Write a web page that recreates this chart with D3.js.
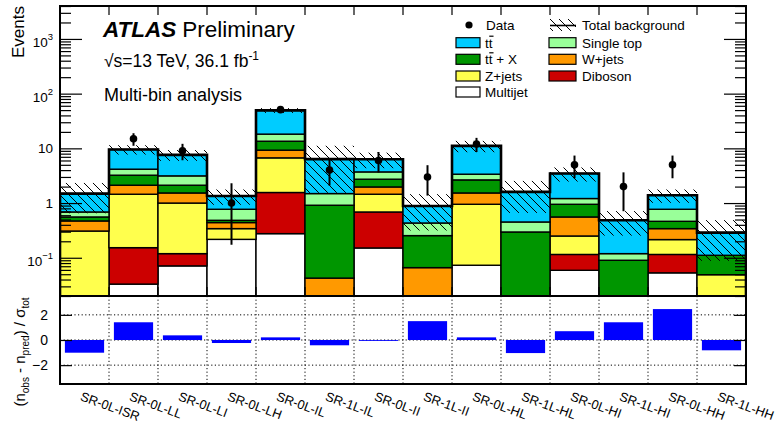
<!DOCTYPE html>
<html><head><meta charset="utf-8">
<script src="https://cdn.jsdelivr.net/npm/d3@7"></script>
<style>
body{margin:0;background:#fff}
svg{display:block;font-family:"Liberation Sans",Arial,Helvetica,sans-serif}
</style>
</head><body>
<svg id="c" width="778" height="427"></svg>
<script>
// ---------- data ----------
const categories = ["SR-0L-ISR","SR-0L-LL","SR-0L-LI","SR-0L-LH","SR-0L-IL","SR-1L-IL","SR-0L-II","SR-1L-II","SR-0L-HL","SR-1L-HL","SR-0L-HI","SR-1L-HI","SR-0L-HH","SR-1L-HH"];
// background components (stack order bottom -> top)
const multijet  = [0,     0.033, 0.071, 0.217, 0.276, 0,     0.151, 0,     0.073, 0,     0.059, 0,     0.053, 0];
const diboson   = [0,     0.120, 0.048, 0,     1.284, 0,     0.536, 0,     0,     0,     0.056, 0,     0.062, 0];
const zjets     = [0.308, 1.297, 0.881, 0.124, 5.14,  0,     0.763, 0,     0.877, 0,     0.135, 0,     0.100, 0.049];
const wjets     = [0.163, 0.67,  0.53,  0.099, 2.57,  0.0425,0.52,  0.066, 0.58,  0,     0.307, 0,     0.126, 0];
const ttx       = [0.086, 1.11,  0.59,  0.044, 4.23,  0.87,  0.76,  0.188, 1.12,  0.296, 0.393, 0.090, 0.123, 0.062];
const singletop = [0.130, 0.93,  1.02,  0.286, 4.7,   0.578, 0.98,  0.178, 0.72,  0.155, 0.26,  0.029, 0.306, 0];
const ttbar     = [0.803, 5.39,  4.46,  0.58,  31.2,  4.85,  2.63,  0.453, 7.73,  1.149, 2.26,  0.365, 0.62,  0.177];
const totalErr  = [0.84,  1.85,  1.7,   0.42,  5.0,   4.8,   2.0,   0.57,  2.6,   0.94,  1.0,   0.23,  0.38,  0.20];
// observed data and its error bar limits
const dataObs   = [0, 15, 9, 1, 51, 4, 6, 3, 12, 0, 5, 2, 5, 0];
const dataLow   = [0, 11.14, 6.06, 0.173, 44.4, 2.09, 3.62, 1.37, 8.57, 0, 2.84, 0.71, 2.84, 0];
const dataHigh  = [0, 18.9, 12.1, 2.30, 58.2, 6.16, 8.58, 4.92, 15.55, 0, 7.38, 3.64, 7.38, 0];
// significance panel
const significance = [-1.01, 1.41, 0.37, -0.24, 0.21, -0.42, -0.07, 1.50, 0.21, -1.04, 0.70, 1.41, 2.46, -0.82];
const yMajorTicks = [0.1, 1, 10, 100, 1000];
const yMajorLabels = [["10","−1"],["1",""],["10",""],["10","2"],["10","3"]];
const ratioTicks = [-2, 0, 2];
const ratioTickLabels = ["−2", "0", "2"];

const keys = ["multijet","diboson","zjets","wjets","ttx","singletop","ttbar"];
const colors = {multijet:"#ffffff", diboson:"#cc0000", zjets:"#ffff4d", wjets:"#ff9900", ttx:"#009600", singletop:"#99ff99", ttbar:"#00ccff"};
const series = {multijet, diboson, zjets, wjets, ttx, singletop, ttbar};

const table = categories.map((c,i)=>{const o={cat:c}; keys.forEach(k=>o[k]=series[k][i]); return o;});

// ---------- layout ----------
const L=60, R=746, T=6, B=296, RB=384;
const svg = d3.select("#c");
const defs = svg.append("defs");
const pat = defs.append("pattern").attr("id","hatch").attr("patternUnits","userSpaceOnUse")
  .attr("width",9).attr("height",9);
pat.append("path").attr("d","M0,0 L9,9 M-1,8 L1,10 M8,-1 L10,1").attr("stroke","#000").attr("stroke-width",1);
defs.append("clipPath").attr("id","clipMain").append("rect").attr("x",L).attr("y",T).attr("width",R-L).attr("height",B-T);

const x = d3.scaleBand().domain(categories).range([L,R]).paddingInner(0).paddingOuter(0);
const y = d3.scaleLog().domain([0.02,4000]).range([B,T]).clamp(true);
const yr = d3.scaleLinear().domain([-3.5,3.5]).range([RB,B]);
const bw = x.bandwidth();
const Y = v => y(Math.max(v,1e-5));

// ---------- stack ----------
const stack = d3.stack().keys(keys)(table);
const gm = svg.append("g").attr("clip-path","url(#clipMain)");
stack.forEach(layer=>{
  gm.selectAll(null).data(layer).enter().append("rect")
    .attr("x",d=>x(d.data.cat)).attr("width",bw)
    .attr("y",d=>Y(d[1])).attr("height",d=>Math.max(0,Y(d[0])-Y(d[1])))
    .attr("fill",colors[layer.key])
    .attr("stroke",d=> (d[1]-d[0])>0 && Y(d[0])-Y(d[1])>0.01 ? "#000" : "none").attr("stroke-width",1.4);
});
const totals = table.map(d=>keys.reduce((s,k)=>s+d[k],0));

// hatched uncertainty
gm.selectAll(null).data(categories).enter().append("rect")
  .attr("x",d=>x(d)).attr("width",bw)
  .attr("y",(d,i)=>Y(totals[i]+totalErr[i]))
  .attr("height",(d,i)=>Y(totals[i]-totalErr[i])-Y(totals[i]+totalErr[i]))
  .attr("fill","url(#hatch)");

// total outline
let p = `M${L},${B}`;
categories.forEach((c,i)=>{p+=` L${x(c)},${Y(totals[i])} L${x(c)+bw},${Y(totals[i])}`;});
p += ` L${R},${B}`;
gm.append("path").attr("d",p).attr("fill","none").attr("stroke","#000").attr("stroke-width",2.6).attr("stroke-linejoin","miter");

// data
const gd = svg.append("g");
categories.forEach((c,i)=>{
  if(dataObs[i]<=0) return;
  const cx = x(c)+bw/2;
  gd.append("line").attr("x1",cx).attr("x2",cx).attr("y1",Y(dataLow[i])).attr("y2",Y(dataHigh[i]))
    .attr("stroke","#000").attr("stroke-width",2);
  gd.append("circle").attr("cx",cx).attr("cy",Y(dataObs[i])).attr("r",3.8).attr("fill","#000");
});

// ---------- main axes ----------
svg.append("rect").attr("x",L).attr("y",T).attr("width",R-L).attr("height",B-T).attr("fill","none").attr("stroke","#000").attr("stroke-width",2);
const minor=[];
for(let k=-2;k<=3;k++) for(let m=2;m<=9;m++){const v=m*Math.pow(10,k); if(v>=0.02&&v<=4000) minor.push(v);}
const ax = svg.append("g");
ax.append("g").attr("transform",`translate(${L},0)`).call(d3.axisLeft(y).tickValues(yMajorTicks).tickSize(-22).tickFormat("")).call(g=>g.select(".domain").remove());
ax.append("g").attr("transform",`translate(${L},0)`).call(d3.axisLeft(y).tickValues(minor).tickSize(-11).tickFormat("")).call(g=>g.select(".domain").remove());
ax.append("g").attr("transform",`translate(${R},0)`).call(d3.axisRight(y).tickValues(yMajorTicks).tickSize(-22).tickFormat("")).call(g=>g.select(".domain").remove());
ax.append("g").attr("transform",`translate(${R},0)`).call(d3.axisRight(y).tickValues(minor).tickSize(-11).tickFormat("")).call(g=>g.select(".domain").remove());
ax.selectAll(".tick line").attr("stroke","#000").attr("stroke-width",1.2);
// x ticks top/bottom of main
const bounds = categories.slice(1).map(c=>x(c));
bounds.forEach(bx=>{
  svg.append("line").attr("x1",bx).attr("x2",bx).attr("y1",T).attr("y2",T+9).attr("stroke","#000").attr("stroke-width",1.2);
  svg.append("line").attr("x1",bx).attr("x2",bx).attr("y1",B).attr("y2",B-9).attr("stroke","#000").attr("stroke-width",1.2);
});
// y labels
yMajorTicks.forEach((v,i)=>{
  const lab = yMajorLabels[i];
  const t = svg.append("text").attr("x",53).attr("y",y(v)+(lab[1]?8:5)).attr("text-anchor","end").attr("font-size",13.5);
  t.append("tspan").text(lab[0]);
  if(lab[1]) t.append("tspan").attr("dy",-7).attr("font-size",9.5).text(lab[1]);
});
svg.append("text").attr("transform","translate(24,6) rotate(-90)").attr("text-anchor","end").attr("font-size",17).text("Events");

// ---------- titles ----------
const t1 = svg.append("text").attr("x",103).attr("y",37).attr("font-size",22.5);
t1.append("tspan").attr("font-weight","bold").attr("font-style","italic").text("ATLAS");
t1.append("tspan").attr("dx",6).text("Preliminary");
const t2 = svg.append("text").attr("x",104).attr("y",67).attr("font-size",17.5);
t2.append("tspan").text("√s=13 TeV, 36.1 fb");
t2.append("tspan").attr("dy",-7).attr("font-size",12).text("-1");
svg.append("text").attr("x",104).attr("y",101).attr("font-size",18).text("Multi-bin analysis");

// ---------- legend ----------
const lg = svg.append("g").attr("font-size",13.5);
const ttText = (g, xx, yy, extra) => {
  const t = g.append("text").attr("x",xx).attr("y",yy).text("tt"+extra);
  const node = t.node();
  const s = node.getStartPositionOfChar(1).x, e = node.getEndPositionOfChar(1).x;
  g.append("line").attr("x1",s+0.5).attr("x2",e+1).attr("y1",yy-11.5).attr("y2",yy-11.5).attr("stroke","#000").attr("stroke-width",1.2);
};
lg.append("circle").attr("cx",469).attr("cy",25).attr("r",3.6).attr("fill","#000");
lg.append("text").attr("x",486).attr("y",30).text("Data");
const col1 = [["ttbar",42.7,null],["ttx",59.3,null],["zjets",76,"Z+jets"],["multijet",92,"Multijet"]];
col1.forEach(([k,yy,lab])=>{
  lg.append("rect").attr("x",456).attr("y",yy-5).attr("width",24).attr("height",10).attr("fill",colors[k]).attr("stroke","#000").attr("stroke-width",1.2);
  if(k==="ttbar") ttText(lg,485,yy+5,"");
  else if(k==="ttx") ttText(lg,485,yy+5," + X");
  else lg.append("text").attr("x",485).attr("y",yy+5).text(lab);
});
lg.append("rect").attr("x",550).attr("y",19).attr("width",26).attr("height",12).attr("fill","url(#hatch)");
lg.append("line").attr("x1",550).attr("x2",576).attr("y1",25.5).attr("y2",25.5).attr("stroke","#000").attr("stroke-width",1.6);
lg.append("text").attr("x",582).attr("y",30).text("Total background");
const col2 = [["singletop",42.7,"Single top"],["wjets",59.3,"W+jets"],["diboson",76,"Diboson"]];
col2.forEach(([k,yy,lab])=>{
  lg.append("rect").attr("x",549).attr("y",yy-5).attr("width",27).attr("height",10).attr("fill",colors[k]).attr("stroke","#000").attr("stroke-width",1.2);
  lg.append("text").attr("x",582).attr("y",yy+5).text(lab);
});

// ---------- ratio panel ----------
const gr = svg.append("g");
ratioTicks.forEach(v=>{
  gr.append("line").attr("x1",L).attr("x2",R).attr("y1",yr(v)).attr("y2",yr(v)).attr("stroke","#000").attr("stroke-width",1).attr("stroke-dasharray","1.2,2.4");
});
bounds.forEach(bx=>{
  gr.append("line").attr("x1",bx).attr("x2",bx).attr("y1",B).attr("y2",RB).attr("stroke","#000").attr("stroke-width",1).attr("stroke-dasharray","1.2,2.4");
});
gr.selectAll(null).data(categories).enter().append("rect")
  .attr("x",d=>x(d)+bw*0.1).attr("width",bw*0.8)
  .attr("y",(d,i)=>Math.min(yr(0),yr(significance[i])))
  .attr("height",(d,i)=>Math.abs(yr(significance[i])-yr(0)))
  .attr("fill","#0000ff");
gr.append("rect").attr("x",L).attr("y",B).attr("width",R-L).attr("height",RB-B).attr("fill","none").attr("stroke","#000").attr("stroke-width",2);
const ra = gr.append("g");
ra.append("g").attr("transform",`translate(${L},0)`).call(d3.axisLeft(yr).tickValues(ratioTicks).tickSize(-12).tickFormat("")).call(g=>g.select(".domain").remove());
ra.append("g").attr("transform",`translate(${R},0)`).call(d3.axisRight(yr).tickValues(ratioTicks).tickSize(-12).tickFormat("")).call(g=>g.select(".domain").remove());
ra.selectAll(".tick line").attr("stroke","#000").attr("stroke-width",1.2);
ratioTicks.forEach((v,i)=>{
  gr.append("text").attr("x",48).attr("y",yr(v)+5).attr("text-anchor","end").attr("font-size",14).text(ratioTickLabels[i]);
});
const rl = gr.append("text").attr("transform","translate(25,352) rotate(-90)").attr("text-anchor","middle").attr("font-size",15);
rl.append("tspan").text("(n");
rl.append("tspan").attr("dy",4).attr("font-size",10).text("obs");
rl.append("tspan").attr("dy",-4).text(" - n");
rl.append("tspan").attr("dy",4).attr("font-size",10).text("pred");
rl.append("tspan").attr("dy",-4).text(") / σ");
rl.append("tspan").attr("dy",4).attr("font-size",10).text("tot");

// x labels
categories.forEach(c=>{
  svg.append("text").attr("transform",`translate(${x(c)+bw/2-5},400) rotate(20)`)
    .attr("font-size",12.8).text(c);
});
</script>
</body></html>
